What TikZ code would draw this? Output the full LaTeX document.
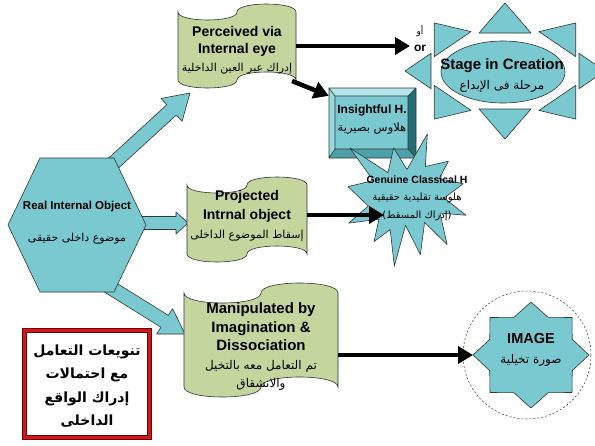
\documentclass[tikz,border=0pt]{standalone}
\usepackage{fontspec}
\setmainfont{Liberation Sans}
\newfontfamily\arfont[Script=Arabic]{DejaVu Sans}
\TeXXeTstate=1
\usetikzlibrary{arrows.meta,calc,shapes.geometric}
\newcommand\arsz[1]{\fontsize{#1}{#1}\arfont}
\newcommand\fsz[2]{\fontsize{#1}{#2}\selectfont}
\definecolor{teal1}{RGB}{122,201,209}
\definecolor{flaggreen}{RGB}{196,214,158}
\definecolor{outl}{RGB}{45,55,55}
\definecolor{boxred}{RGB}{205,25,25}
\definecolor{boxdark}{RGB}{110,0,0}
\definecolor{bevtop}{RGB}{180,229,234}
\definecolor{bevleft}{RGB}{152,216,223}
\definecolor{bevright}{RGB}{35,108,116}
\definecolor{bevbottom}{RGB}{78,160,169}
\newcommand\blockarr[5]{%
  \coordinate (ba-h) at ($(#2)!#5!(#1)$);
  \draw[tealshape] ($(#1)!#3!90:(#2)$) -- ($(ba-h)!#3!90:(#2)$) -- ($(ba-h)!#4!90:(#2)$) -- (#2)
     -- ($(ba-h)!#4!-90:(#2)$) -- ($(ba-h)!#3!-90:(#2)$) -- ($(#1)!#3!-90:(#2)$) -- cycle;
}
\newcommand\flagpath[6]{% name,x0,y0,x1,y1,a
  \pgfmathsetmacro\fxm{(#2+#4)/2}
  \pgfmathsetmacro\fyA{#3+#6}
  \pgfmathsetmacro\fyAd{#3+#6+4*#6/3}
  \pgfmathsetmacro\fyAu{#3+#6-4*#6/3}
  \pgfmathsetmacro\fyB{#5-#6}
  \pgfmathsetmacro\fyBu{#5-#6-4*#6/3}
  \pgfmathsetmacro\fyBd{#5-#6+4*#6/3}
  \draw[flagfill] (#2,\fyA) .. controls (#2,\fyAd) and (\fxm,\fyAd) .. (\fxm,\fyA)
     .. controls (\fxm,\fyAu) and (#4,\fyAu) .. (#4,\fyA) -- (#4,\fyB)
     .. controls (#4,\fyBu) and (\fxm,\fyBu) .. (\fxm,\fyB)
     .. controls (\fxm,\fyBd) and (#2,\fyBd) .. (#2,\fyB) -- cycle;
  \pgfmathsetmacro\fw{#4-#2}\pgfmathsetmacro\fh{#5-#3}\pgfmathsetmacro\fym{(#3+#5)/2}
  \node[inner sep=0pt, minimum width=\fw pt, minimum height=\fh pt] (#1) at (\fxm,\fym) {};
}
\begin{document}
\begin{tikzpicture}[x=1pt,y=-1pt,
  tealshape/.style={fill=teal1, draw=outl, line width=0.6pt, line join=round},
  flagfill/.style={fill=flaggreen, draw=outl, line width=0.6pt},
  blackarrow/.style={line width=4.5pt, -{Triangle[length=15pt,width=17pt]}},
  lbl/.style={inner sep=0pt, align=center, text=black}]
\fill[white] (0,0) rectangle (595,445);
\useasboundingbox (0,0) rectangle (595,445);

% block arrows from the hexagon
\coordinate (ua0) at (106,170); \coordinate (ua1) at (190,93);
\blockarr{ua0}{ua1}{7pt}{15.5pt}{25pt}
\coordinate (ma0) at (136,223); \coordinate (ma1) at (188,223);
\blockarr{ma0}{ma1}{6.5pt}{11pt}{12pt}
\coordinate (la0) at (108,286); \coordinate (la1) at (185,334);
\blockarr{la0}{la1}{7pt}{15pt}{24pt}

% hexagon
\draw[tealshape] (8,225) -- (40,158) -- (114,158) -- (146,225) -- (114,292) -- (40,292) -- cycle;
\node[lbl, font=\fsz{11.5}{32}\bfseries] (hex) at (77,223) {Real Internal Object\\{\arsz{11}\mdseries\beginR موضوع داخلى حقيقى\endR}};

% flags
\flagpath{flag1}{178}{4}{296}{88}{8}
\node[lbl, font=\fsz{14}{17.5}\bfseries] (flag1t) at (237,50) {Perceived via\\Internal eye\\{\arsz{11}\mdseries\beginR إدراك عبر العين الداخلية\endR}};
\flagpath{flag2}{187}{177}{307}{262}{8}
\node[lbl, font=\fsz{14}{19}\bfseries] (flag2t) at (247,216) {Projected\\Intrnal object\\{\arsz{11}\mdseries\beginR إسقاط الموضوع الداخلى\endR}};
\flagpath{flag3}{184}{283}{338}{397}{10}
\node[lbl, font=\fsz{15}{18.5}\bfseries] (flag3t) at (261,347) {Manipulated by\\Imagination \&\\Dissociation\\{\arsz{12}\mdseries\beginR تم التعامل معه بالتخيل\endR}\\{\arsz{12}\mdseries\beginR والانشقاق\endR}};

% insightful box
\node[inner sep=0pt, minimum width=87pt, minimum height=70pt] (insight) at (372.5,123) {};
\fill[teal1] (335,96) rectangle (408,149);
\fill[bevtop] (329,88) -- (416,88) -- (408,96) -- (335,96) -- cycle;
\fill[bevleft] (329,88) -- (335,96) -- (335,149) -- (329,158) -- cycle;
\fill[bevright] (416,88) -- (416,158) -- (408,149) -- (408,96) -- cycle;
\fill[bevbottom] (329,158) -- (416,158) -- (408,149) -- (335,149) -- cycle;
\draw[outl, line width=0.6pt] (329,88) rectangle (416,158) (335,96) rectangle (408,149)
  (329,88) -- (335,96) (416,88) -- (408,96) (416,158) -- (408,149) (329,158) -- (335,149);
\node[lbl, font=\fsz{12}{18}\bfseries] (insightt) at (372,120) {Insightful H.\\{\arsz{11.5}\mdseries\beginR هلاوس بصيرية\endR}};

% sun
\foreach \a in {0,45,...,315}{
  \pgfmathsetmacro\tx{505+100*cos(\a)}
  \pgfmathsetmacro\ty{71-68*sin(\a)}
  \pgfmathsetmacro\bx{505+74*cos(\a)}
  \pgfmathsetmacro\by{71-38*sin(\a)}
  \pgfmathsetmacro\px{-26*sin(\a)}
  \pgfmathsetmacro\py{-17.7*cos(\a)}
  \draw[tealshape] ({\bx+\px},{\by+\py}) -- (\tx,\ty) -- ({\bx-\px},{\by-\py}) -- cycle;
}
\draw[tealshape] (503,72) ellipse [x radius=62pt, y radius=31pt];
\node[lbl, font=\fsz{15}{20}\bfseries] (sun) at (502,76) {Stage in Creation\\{\arsz{12}\mdseries\beginR مرحلة فى الإبداع\endR}};

% explosion
\begin{scope}[shift={(348,134)}, x=1.18pt, y=-1.32pt]
\draw[tealshape] (50,26.85) -- (67.23,0) -- (65.53,24.65) -- (85.09,20.63) -- (77.32,33.87)
 -- (97.67,37.67) -- (81.51,48.50) -- (100,61.53) -- (77.95,59.92) -- (84,83.77) -- (64.91,66.93)
 -- (61.33,91.38) -- (48.76,69.14) -- (39.28,100) -- (35.72,72.35) -- (22.05,81.56) -- (26.24,64.52)
 -- (0.63,67.53) -- (17.23,54.51) -- (0,39.88) -- (21.42,35.26) -- (1.71,10.63) -- (33.85,29.26)
 -- (38.67,10.63) -- cycle;
\end{scope}
\node[lbl, font=\fsz{10.5}{17.5}\bfseries] (genuine) at (417,198) {Genuine Classical H\\{\arsz{10}\mdseries\beginR هلوسة تقليدية حقيقية\endR}\\{\arsz{10}\mdseries\beginR (إدراك المسقط)\endR}};

% image
\node[circle, draw=outl, dash pattern=on 2pt off 2pt, line width=0.5pt, minimum size=128pt, inner sep=0pt] (ring) at (527,355) {};
\draw[tealshape] (589,355) \foreach \i in {1,...,15}{ -- ({531+58*(1-0.23*mod(\i,2))*cos(\i*22.5)},{355-53*(1-0.23*mod(\i,2))*sin(\i*22.5)}) } -- cycle;
\node[lbl, font=\fsz{14.5}{20}\bfseries] (image) at (531,350) {IMAGE\\{\arsz{12}\mdseries\beginR صورة تخيلية\endR}};

% black arrows
\coordinate (orpt) at (410,46);
\draw[blackarrow] (flag1.east |- orpt) -- (orpt);
\node[lbl, font=\fsz{12}{14}\bfseries] (ortext) at (420,48) {or};
\node[lbl] (awtext) at (420,31) {\arsz{9}\beginR أو\endR};
\coordinate (f1b) at (292,81);
\draw[blackarrow] (f1b) -- ($(insight.north west)+(0,8)$);
\coordinate (genin) at (384,215);
\draw[blackarrow] (flag2.east |- genin) -- (genin);
\coordinate (imgin) at (473,355);
\draw[blackarrow] (flag3.east |- imgin) -- (imgin);

% note box
\node[draw=boxdark, double=boxred, double distance=3.5pt, line width=0.7pt, fill=white,
  minimum width=125pt, minimum height=107pt, inner sep=0pt] (note) at (87,384) {};
\node[lbl, font=\fsz{14}{23.5}\bfseries] (notet) at (87,386) {{\arsz{14}\beginR تنويعات التعامل\endR}\\{\arsz{14}\beginR مع احتمالات\endR}\\{\arsz{14}\beginR إدراك الواقع\endR}\\{\arsz{14}\beginR الداخلى\endR}};
\end{tikzpicture}
\end{document}
